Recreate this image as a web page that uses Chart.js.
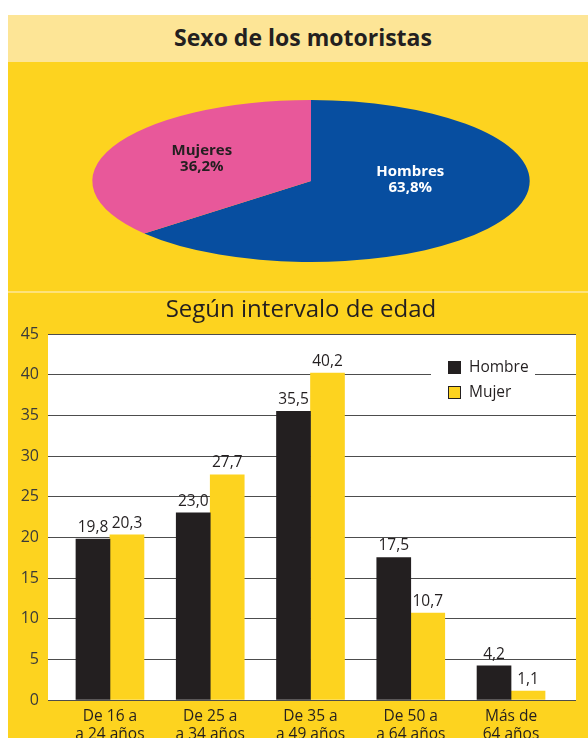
<!DOCTYPE html>
<html>
<head>
<meta charset="utf-8">
<script src="https://cdn.jsdelivr.net/npm/chart.js@4"></script>
<style>
  body { margin: 0; background: #fff; width: 588px; height: 738px; overflow: hidden; position: relative; font-family: "Open Sans", sans-serif; }
  #banner { position: absolute; left: 8px; top: 15px; width: 570px; padding-left: 10px; height: 47px; background: #fde596; text-align: center; font-weight: bold; font-size: 23px; line-height: 45px; color: #231f20; }
  #pieBox { position: absolute; left: 8px; top: 62px; width: 580px; height: 229px; background: #fdd31f; }
  #gap { position: absolute; left: 8px; top: 291px; width: 580px; height: 2px; background: #fde27a; }
  #barBox { position: absolute; left: 8px; top: 293px; width: 580px; height: 445px; background: #fdd31f; }
  #barTitle { position: absolute; left: 14px; width: 574px; top: 293px; height: 30px; line-height: 30px; text-align: center; font-size: 24px; color: #231f20; }
  canvas { display: block; }
</style>
</head>
<body>
<div id="banner">Sexo de los motoristas</div>
<div id="pieBox"><canvas id="pie" width="580" height="229"></canvas></div>
<div id="gap"></div>
<div id="barBox"><canvas id="bars" width="580" height="445"></canvas></div>
<div id="barTitle">Según intervalo de edad</div>
<script>
// pie data
const sexLabels = ['Hombres', 'Mujeres'];
const sexShares = [63.8, 36.2];
// bar data
const ageGroups = [['De 16 a', 'a 24 años'], ['De 25 a', 'a 34 años'], ['De 35 a', 'a 49 años'], ['De 50 a', 'a 64 años'], ['Más de', '64 años']];
const hombre = [19.8, 23.0, 35.5, 17.5, 4.2];
const mujer = [20.3, 27.7, 40.2, 10.7, 1.1];

Chart.defaults.font.family = "'Open Sans', sans-serif";
const ink = '#231f20';
const yellow = '#fdd31f';
const fmt = v => v.toFixed(1).replace('.', ',');

// pie is drawn as a circle and stretched sideways into an ellipse
const STRETCH = 2.7;
const pieLabelRadius = [0.5, 0.55];
const pieLabelShift = [-18, -4];
const ellipsePie = {
    id: 'ellipsePie',
    beforeDatasetsDraw(chart) {
        const arc = chart.getDatasetMeta(0).data[0];
        const ctx = chart.ctx;
        ctx.save();
        ctx.translate(arc.x, 0);
        ctx.scale(STRETCH, 1);
        ctx.translate(-arc.x, 0);
    },
    afterDatasetsDraw(chart) {
        const ctx = chart.ctx;
        ctx.restore();
        const ds = chart.data.datasets[0];
        chart.getDatasetMeta(0).data.forEach((arc, i) => {
            const mid = (arc.startAngle + arc.endAngle) / 2;
            const r = arc.outerRadius * pieLabelRadius[i];
            const x = arc.x + Math.cos(mid) * r * STRETCH;
            const y = arc.y + Math.sin(mid) * r + pieLabelShift[i];
            ctx.save();
            ctx.font = "bold 15px 'Open Sans', sans-serif";
            ctx.textAlign = 'center';
            ctx.textBaseline = 'middle';
            ctx.fillStyle = i === 0 ? '#fff' : ink;
            ctx.fillText(chart.data.labels[i], x, y - 8);
            ctx.fillText(fmt(ds.data[i]) + '%', x, y + 8);
            ctx.restore();
        });
    }
};

new Chart(document.getElementById('pie'), {
    type: 'pie',
    data: {
        labels: sexLabels,
        datasets: [{ data: sexShares, backgroundColor: ['#074ea0', '#e8589a'], borderWidth: 0, hoverOffset: 0 }]
    },
    options: {
        responsive: false,
        animation: false,
        layout: { padding: { top: 38, bottom: 29, left: 222, right: 196 } },
        plugins: { legend: { display: false }, tooltip: { enabled: false } }
    },
    plugins: [ellipsePie]
});

const plotBg = {
    id: 'plotBg',
    beforeDraw(chart) {
        const a = chart.chartArea;
        chart.ctx.save();
        chart.ctx.fillStyle = '#fff';
        chart.ctx.fillRect(a.left, a.top, a.right - a.left, a.bottom - a.top);
        chart.ctx.restore();
    }
};

const barLabels = {
    id: 'barLabels',
    afterDatasetsDraw(chart) {
        const ctx = chart.ctx;
        ctx.save();
        ctx.font = "15.5px 'Open Sans', sans-serif";
        ctx.fillStyle = ink;
        ctx.textAlign = 'center';
        ctx.textBaseline = 'bottom';
        chart.data.datasets.forEach((ds, d) => {
            chart.getDatasetMeta(d).data.forEach((bar, i) => {
                ctx.fillText(fmt(ds.data[i].y), bar.x, bar.y - 4);
            });
        });
        ctx.restore();
    }
};

// legend sits inside the plot on a white patch
const legendBox = {
    id: 'legendBox',
    afterDraw(chart) {
        const ctx = chart.ctx;
        const a = chart.chartArea;
        const x = a.left + 383, y = a.top + 18;
        ctx.save();
        ctx.fillStyle = '#fff';
        ctx.fillRect(x, y, 104, 50);
        ctx.font = "15.5px 'Open Sans', sans-serif";
        ctx.textBaseline = 'middle';
        chart.data.datasets.forEach((ds, d) => {
            const by = y + 9 + d * 25;
            ctx.fillStyle = ds.backgroundColor;
            ctx.fillRect(x + 17, by, 13, 13);
            if (d === 1) {
                ctx.strokeStyle = ink;
                ctx.lineWidth = 1;
                ctx.strokeRect(x + 17.5, by + 0.5, 12, 12);
            }
            ctx.fillStyle = ink;
            ctx.fillText(ds.label, x + 38, by + 7);
        });
        ctx.restore();
    }
};

new Chart(document.getElementById('bars'), {
    type: 'bar',
    data: {
        datasets: [
            { label: 'Hombre', data: hombre.map((v, i) => ({ x: i, y: v })), backgroundColor: ink, barThickness: 34 },
            { label: 'Mujer', data: mujer.map((v, i) => ({ x: i, y: v })), backgroundColor: yellow, barThickness: 34 }
        ]
    },
    options: {
        responsive: false,
        animation: false,
        layout: { padding: { left: 0, right: 12, top: 41, bottom: 0 } },
        scales: {
            x: {
                type: 'linear', min: -0.618, max: 4.648, offset: false,
                grid: { display: false, drawTicks: false, offset: false },
                border: { display: false },
                ticks: {
                    stepSize: 1, includeBounds: false, autoSkip: false, maxRotation: 0,
                    padding: 7, color: ink, font: { size: 15.5 },
                    callback: v => ageGroups[v] || ''
                },
                afterFit: s => { s.height = 38; }
            },
            y: {
                min: 0, max: 45,
                ticks: { stepSize: 5, padding: 9, color: '#3a3a3a', font: { size: 16 } },
                grid: { color: '#4d4d4d', drawTicks: false },
                border: { display: false },
                afterFit: s => { s.width = 40; }
            }
        },
        plugins: {
            legend: { display: false },
            tooltip: { enabled: false },
            title: { display: false }
        }
    },
    plugins: [plotBg, barLabels, legendBox]
});
</script>
</body>
</html>
